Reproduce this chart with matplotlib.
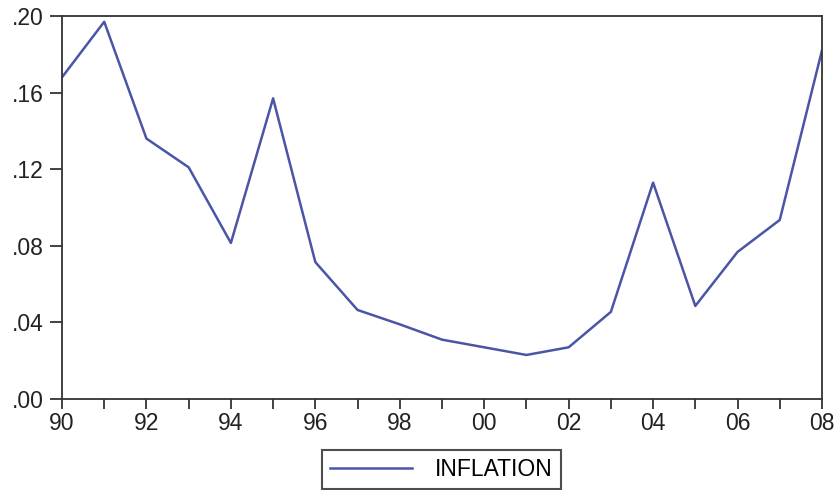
import matplotlib.pyplot as plt
from matplotlib.ticker import FuncFormatter, MultipleLocator

plt.rcParams['font.family'] = ['Liberation Sans', 'DejaVu Sans']

# Annual inflation, 1990-2008
years = [1990, 1991, 1992, 1993, 1994, 1995, 1996, 1997, 1998, 1999,
         2000, 2001, 2002, 2003, 2004, 2005, 2006, 2007, 2008]
inflation = [0.168, 0.197, 0.136, 0.121, 0.0815, 0.157, 0.0715, 0.0465, 0.039, 0.031,
             0.027, 0.023, 0.027, 0.0455, 0.113, 0.0486, 0.0768, 0.0935, 0.182]
y_ticks = [0.00, 0.04, 0.08, 0.12, 0.16, 0.20]

fig = plt.figure(figsize=(8.39, 4.90), dpi=100)
ax = fig.add_axes([0.0739, 0.1857, 0.9058, 0.7816])

ax.plot(years, inflation, color='#4b55a8', linewidth=1.8, label='INFLATION')

ax.set_xlim(1990, 2008)
ax.set_ylim(0, 0.20)
ax.set_yticks(y_ticks)
ax.yaxis.set_major_formatter(FuncFormatter(lambda v, p: f'{v:.2f}'.lstrip('0')))
ax.xaxis.set_major_locator(MultipleLocator(2))
ax.xaxis.set_minor_locator(MultipleLocator(1))
ax.xaxis.set_major_formatter(FuncFormatter(lambda v, p: f'{int(round(v)) % 100:02d}'))

ax.tick_params(axis='y', direction='out', length=9, width=1.2, pad=4, labelsize=16.5, colors='#222222')
ax.tick_params(axis='x', which='both', direction='out', length=7, width=1.2, pad=2, labelsize=16.5, colors='#222222')
for s in ax.spines.values():
    s.set_linewidth(1.3)
    s.set_color('#333333')

leg = fig.legend(loc='center', bbox_to_anchor=(0.526, 0.041), fontsize=16.5, frameon=True,
                 fancybox=False, edgecolor='#222222', handlelength=3.6, handletextpad=1.0,
                 borderpad=0.35, borderaxespad=0)
leg.get_frame().set_linewidth(1.5)

fig.savefig('out.png', dpi=100)
